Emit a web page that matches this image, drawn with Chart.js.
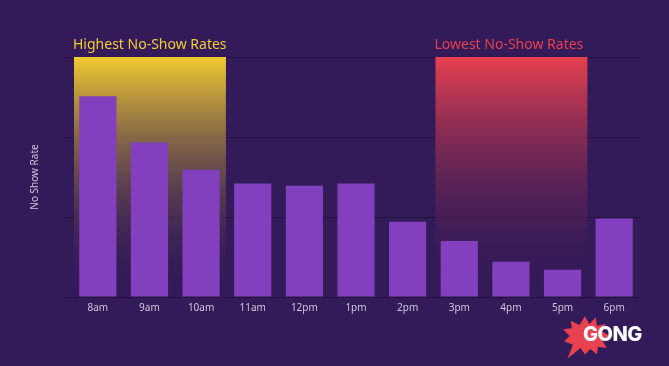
<!DOCTYPE html>
<html>
<head>
<meta charset="utf-8">
<script src="https://cdn.jsdelivr.net/npm/chart.js@4"></script>
<style>
  html, body { margin: 0; padding: 0; background: #331a58; }
  #wrap { position: relative; width: 669px; height: 366px; }
  #logo { position: absolute; left: 558px; top: 313px; width: 100px; height: 48px; }
  #logo svg { position: absolute; left: 0; top: 0; }
  #logo span {
    position: absolute; left: 25px; top: 9px;
    font: 800 20px "Inter", "DejaVu Sans", sans-serif; color: #fff; letter-spacing: -0.5px;
  }
</style>
</head>
<body>
<div id="wrap">
  <canvas id="chart" width="669" height="366"></canvas>
  <div id="logo">
    <svg width="56" height="48" viewBox="0 0 50 44">
      <polygon fill="#e8414f" points="24,3 28,10 34,4 35,12 43,10 40,17 47,21 40,25 44,32 36,31 35,38 29,33 24,38 20,32 8,42 13,29 5,26 10,21 4,15 12,14 11,7 19,11"/>
    </svg>
    <span>GONG</span>
  </div>
</div>
<script>
// Data
const hours = ["8am", "9am", "10am", "11am", "12pm", "1pm", "2pm", "3pm", "4pm", "5pm", "6pm"];
const noShowRate = [2.51, 1.93, 1.59, 1.42, 1.39, 1.42, 0.94, 0.7, 0.44, 0.34, 0.98];
const highestHours = ["8am", "10am"];
const lowestHours = ["3pm", "5pm"];

// Highlight boxes behind the bars
const highlightPlugin = {
    id: "highlights",
    beforeDatasetsDraw(chart) {
        const { ctx, chartArea, scales } = chart;
        const x = scales.x;
        const half = (x.getPixelForValue(1) - x.getPixelForValue(0)) / 2;

        function box(range, top, label) {
            const left = x.getPixelForValue(hours.indexOf(range[0])) - half + 2;
            const right = x.getPixelForValue(hours.indexOf(range[1])) + half - 1;
            const grad = ctx.createLinearGradient(0, chartArea.top, 0, chartArea.bottom);
            grad.addColorStop(0, top);
            grad.addColorStop(1, "rgba(51, 26, 88, 0)");
            ctx.save();
            ctx.fillStyle = grad;
            ctx.fillRect(left, chartArea.top, right - left, chartArea.bottom - chartArea.top);
            ctx.fillStyle = top;
            ctx.font = "14px 'Noto Sans', sans-serif";
            ctx.textBaseline = "middle";
            ctx.fillText(label, left - 1, chartArea.top - 12);
            ctx.restore();
        }

        box(highestHours, "#f2cc31", "Highest No-Show Rates");
        box(lowestHours, "#e8414f", "Lowest No-Show Rates");
    }
};

const ctx = document.getElementById("chart").getContext("2d");
new Chart(ctx, {
    type: "bar",
    data: {
        labels: hours,
        datasets: [{
            label: "No Show Rate",
            data: noShowRate,
            backgroundColor: "#8340be",
            barPercentage: 0.72,
            categoryPercentage: 1,
        }],
    },
    options: {
        responsive: false,
        animation: false,
        layout: { padding: { top: 57, right: 29, left: 0, bottom: 0 } },
        plugins: { legend: { display: false }, tooltip: { enabled: false } },
        scales: {
            x: {
                grid: { display: false },
                border: { display: false },
                ticks: { color: "#cdc5dc", font: { size: 10, family: "'Noto Sans', sans-serif" }, padding: -3 },
                afterFit(scale) { scale.height = 69; },
            },
            y: {
                min: 0,
                max: 3,
                ticks: { stepSize: 1, display: false },
                grid: { color: "#24113f", lineWidth: 1, tickLength: 8 },
                border: { display: false },
                title: {
                    display: true,
                    text: "No Show Rate",
                    color: "#cdc5dc",
                    font: { size: 10, family: "'Noto Sans', sans-serif" },
                    padding: { top: 29, bottom: 0 },
                },
                afterFit(scale) { scale.width = 72; },
            },
        },
    },
    plugins: [highlightPlugin],
});
</script>
</body>
</html>
